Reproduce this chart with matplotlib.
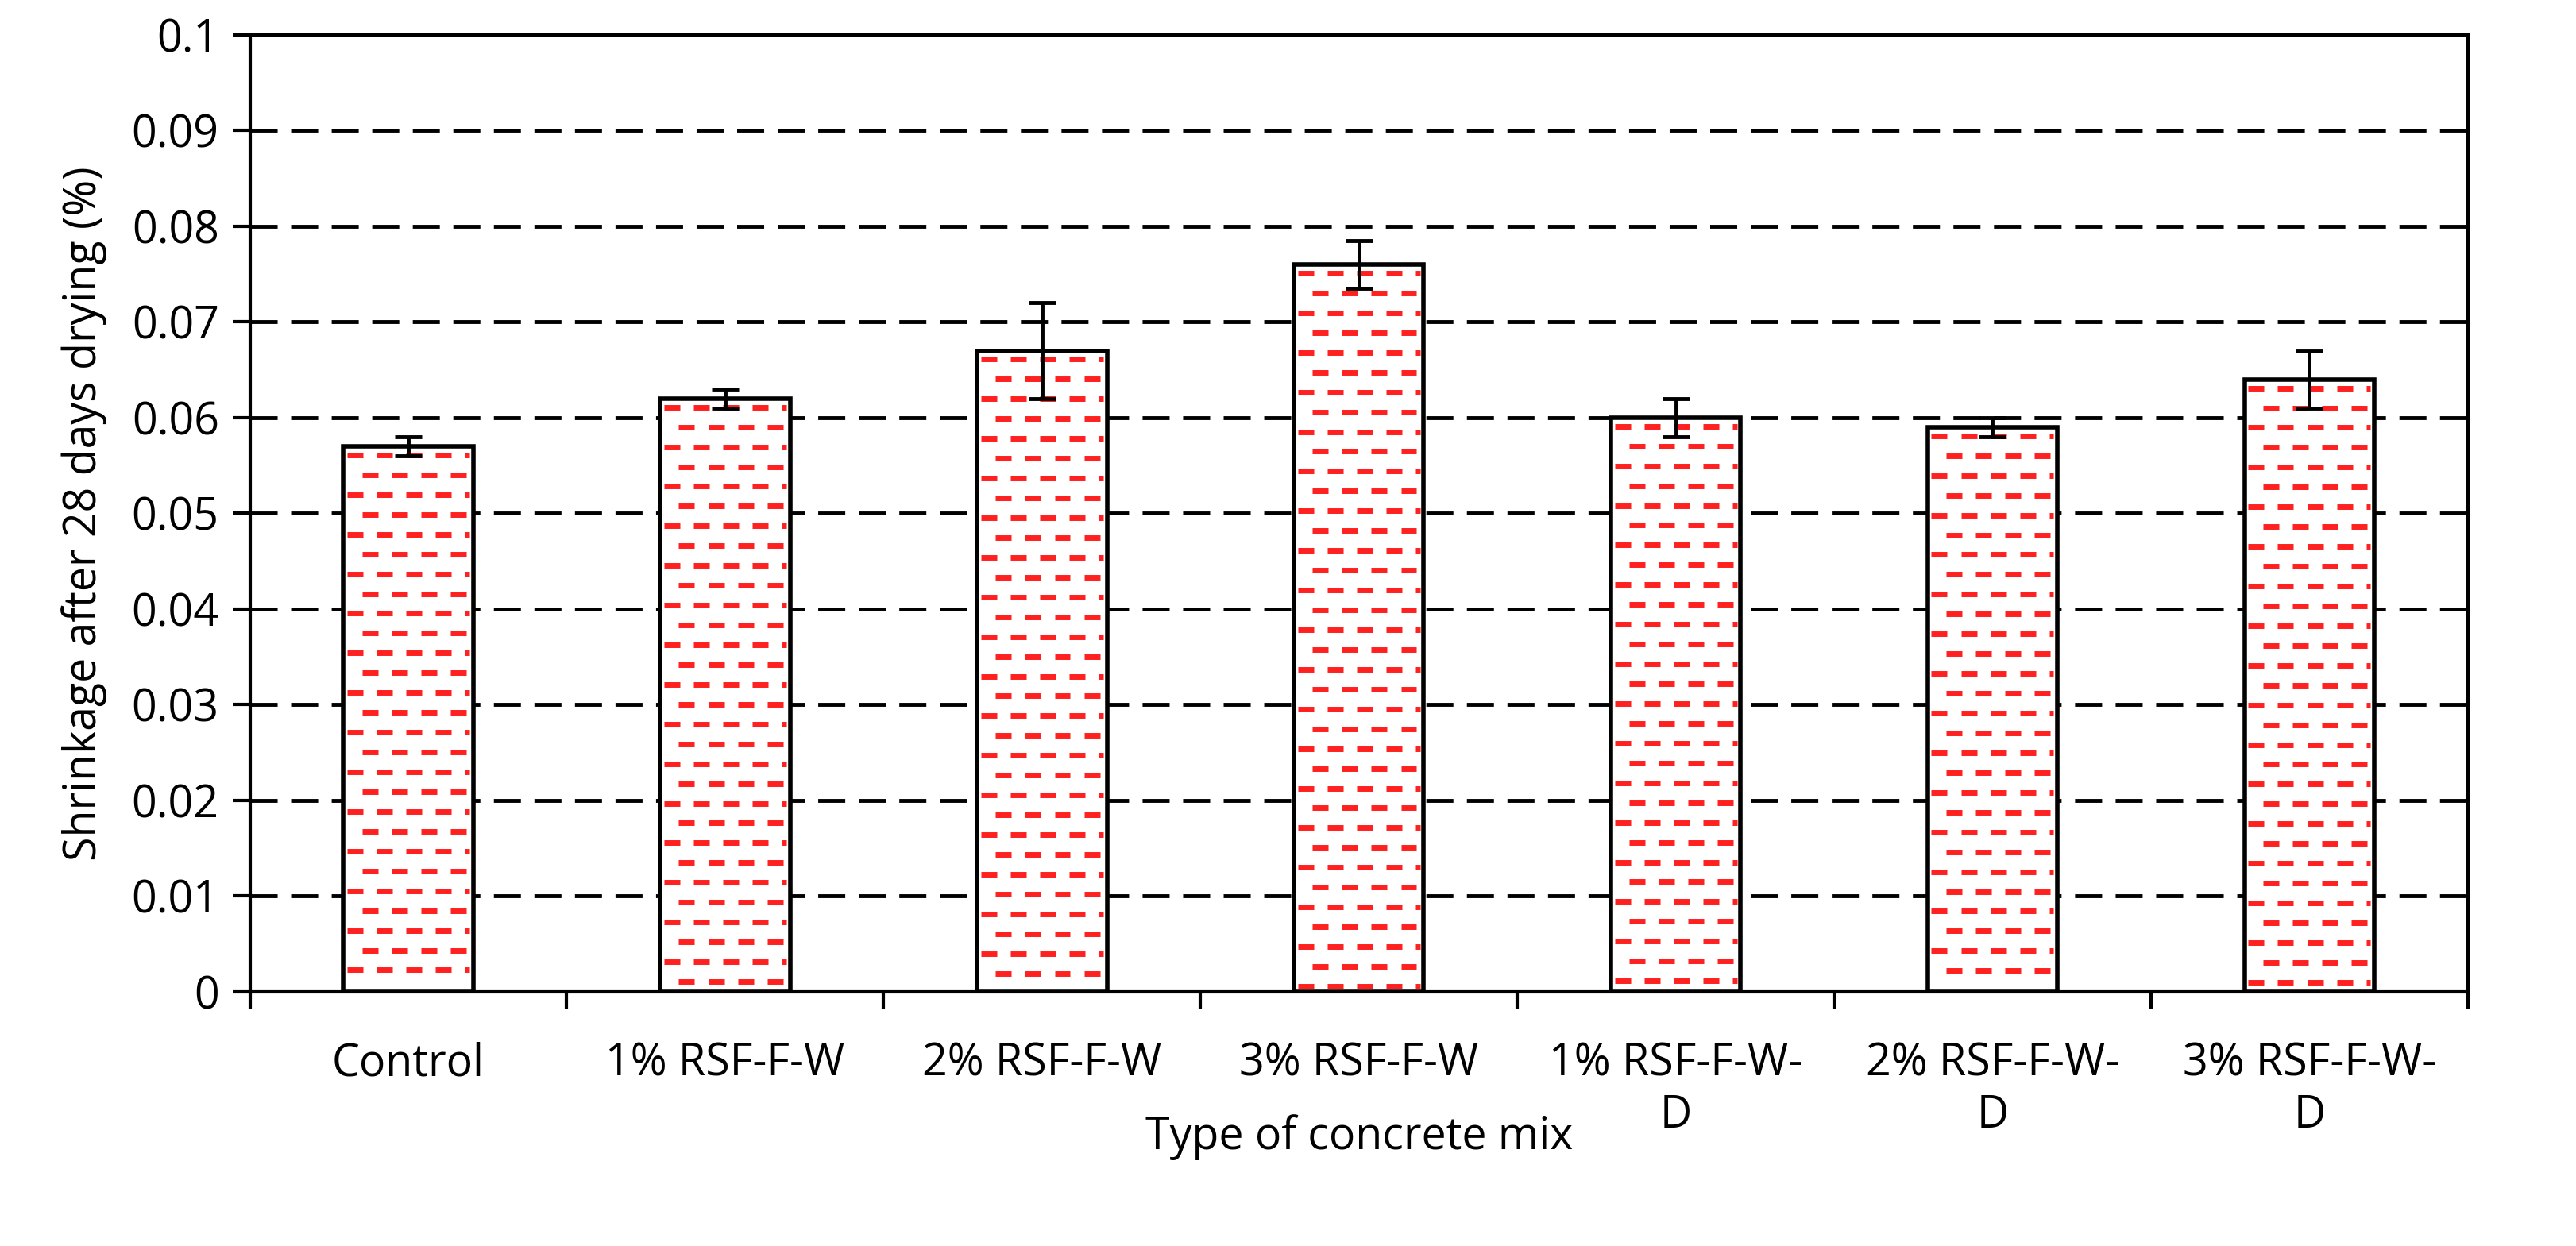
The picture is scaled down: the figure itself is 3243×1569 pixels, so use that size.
import numpy as np
import matplotlib.pyplot as plt
from matplotlib.collections import LineCollection

mixes = ['Control', '1% RSF-F-W', '2% RSF-F-W', '3% RSF-F-W',
         '1% RSF-F-W-\nD', '2% RSF-F-W-\nD', '3% RSF-F-W-\nD']
shrinkage = [0.057, 0.062, 0.067, 0.076, 0.060, 0.059, 0.064]
errors = [0.001, 0.001, 0.005, 0.0025, 0.002, 0.001, 0.003]

plt.rcParams['font.family'] = ['Open Sans', 'DejaVu Sans']

fig = plt.figure(figsize=(32.43, 15.69), dpi=100)
ax = fig.add_axes([0.097, 0.204, 0.861, 0.768])

x = np.arange(len(mixes))
width = 0.41
bars = ax.bar(x, shrinkage, width, color='white', edgecolor='black', linewidth=4, zorder=3)
ax.errorbar(x, shrinkage, yerr=errors, fmt='none', ecolor='black', elinewidth=3.5,
            capsize=12, capthick=3.5, zorder=5)

# red staggered dash fill, trimmed to each bar
dy, dx, dl = 0.00207, 0.093, 0.05
for rect, v in zip(bars, shrinkage):
    x0 = rect.get_x() + 0.012
    x1 = rect.get_x() + width - 0.012
    segs = []
    for i, yy in enumerate(np.arange(v - 0.0009, 0.0004, -dy)):
        off = 0 if i % 2 == 0 else dx / 2
        for xx in np.arange(x0 - dx + off, x1, dx):
            a, b = max(xx, x0), min(xx + dl, x1)
            if b - a > 0.008:
                segs.append([(a, yy), (b, yy)])
    ax.add_collection(LineCollection(segs, colors='#ff2020', linewidths=5, zorder=4))

ax.set_xlim(-0.5, len(mixes) - 0.5)
ax.set_ylim(0, 0.1)
ax.set_yticks(np.arange(0, 0.101, 0.01))
ax.set_yticklabels(['0'] + [f'{v:g}' for v in np.arange(0.01, 0.101, 0.01).round(2)])
ax.yaxis.grid(True, color='black', linestyle=(0, (7, 3.5)), linewidth=3.5, zorder=0)
ax.set_axisbelow(True)

ax.set_xticks(x)
ax.set_xticklabels(mixes, va='top')
ax.tick_params(axis='x', length=0, pad=45)
ax.set_xticks(np.arange(-0.5, len(mixes), 1), minor=True)
ax.tick_params(axis='x', which='minor', length=16, width=3)
ax.tick_params(axis='y', length=16, width=3, labelsize=40, pad=12)
ax.tick_params(axis='x', labelsize=40)
for s in ax.spines.values():
    s.set_linewidth(3)

ax.set_xlabel('Type of concrete mix', fontsize=40, labelpad=-22)
ax.set_ylabel('Shrinkage after 28 days drying (%)', fontsize=40, labelpad=22)

fig.savefig('out.png', dpi=100, facecolor='white')
